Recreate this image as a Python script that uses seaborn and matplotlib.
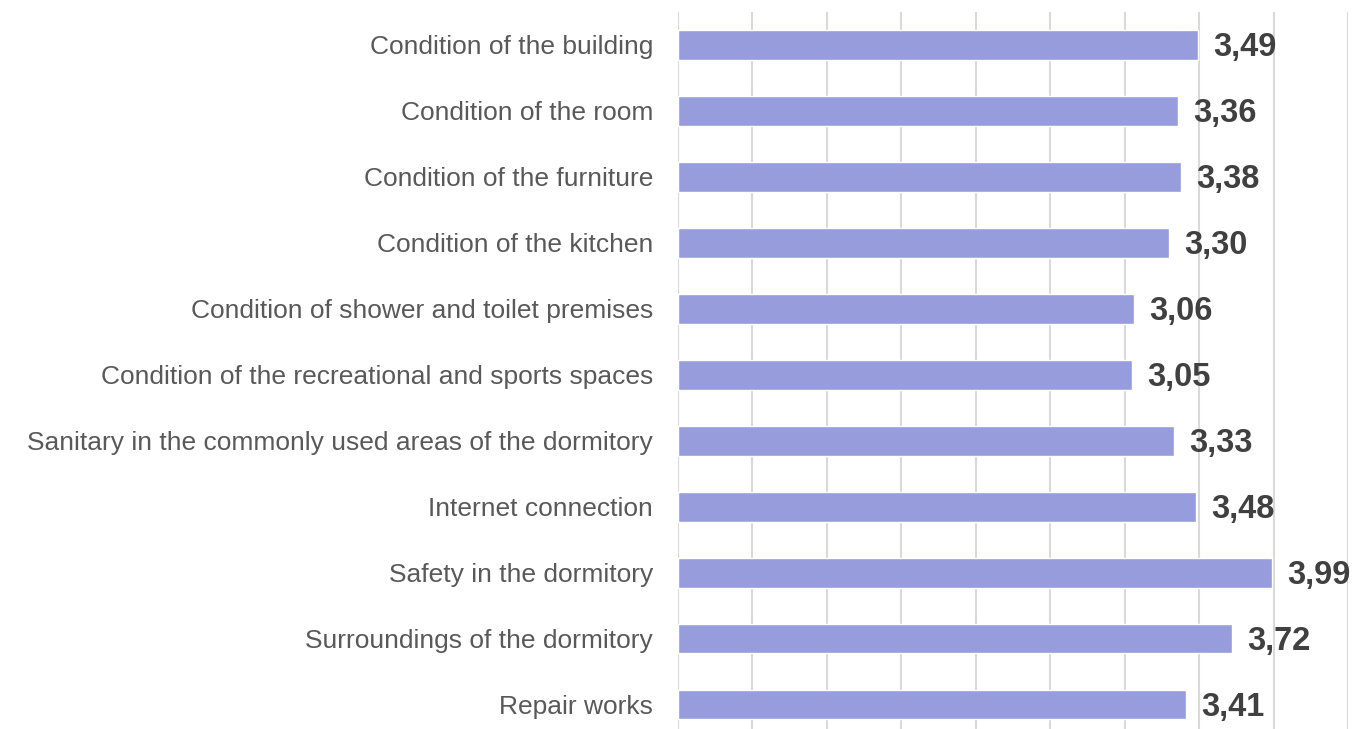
import matplotlib
matplotlib.use("Agg")
import matplotlib.pyplot as plt
import seaborn as sns
import pandas as pd
import numpy as np

categories = [
    "Condition of the building",
    "Condition of the room",
    "Condition of the furniture",
    "Condition of the kitchen",
    "Condition of shower and toilet premises",
    "Condition of the recreational and sports spaces",
    "Sanitary in the commonly used areas of the dormitory",
    "Internet connection",
    "Safety in the dormitory",
    "Surroundings of the dormitory",
    "Repair works",
]
values = [3.49, 3.36, 3.38, 3.30, 3.06, 3.05, 3.33, 3.48, 3.99, 3.72, 3.41]

df = pd.DataFrame({"category": categories, "value": values})

sns.set_theme(style="white")
plt.rcParams["font.family"] = ["Liberation Sans", "DejaVu Sans"]

fig = plt.figure(figsize=(13.53, 7.29), dpi=100)
ax = fig.add_axes([678 / 1353, 0.0, 670 / 1353, 717 / 729])

sns.barplot(data=df, y="category", x="value", orient="h", color="#979ddc",
            width=0.44, saturation=1, ax=ax, zorder=3)

ax.set_xlim(0, 4.5)
ax.set_ylim(10.364, -0.5)
ax.set_xticks(np.arange(0, 4.51, 0.5))
ax.set_xticklabels([])
ax.grid(axis="x", color="#d9d9d9", linewidth=1.5, zorder=0)
ax.grid(axis="y", visible=False)
for s in ax.spines.values():
    s.set_visible(False)
ax.set_xlabel("")
ax.set_ylabel("")
ax.tick_params(axis="y", length=0, pad=18, labelsize=19, labelcolor="#595959")
ax.tick_params(axis="x", length=0)

for i, v in enumerate(values):
    ax.annotate(f"{v:.2f}".replace(".", ","), xy=(v, i), xytext=(11, -8),
                textcoords="offset points", va="baseline", ha="left",
                fontsize=23.5, fontweight="bold", color="#404040", zorder=4)

fig.savefig("out.png", dpi=100)
